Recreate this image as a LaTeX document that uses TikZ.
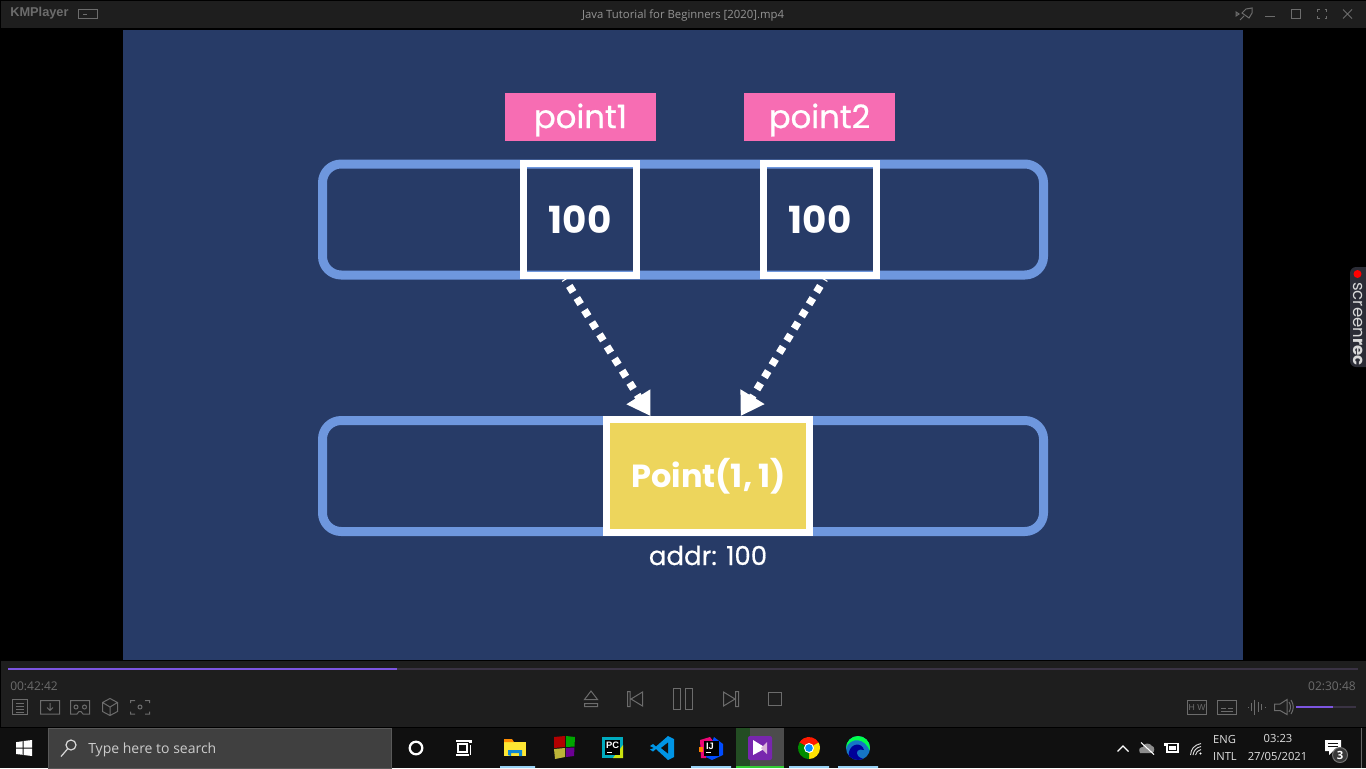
\documentclass[tikz,border=0pt]{standalone}
\usepackage{fontspec}
\usetikzlibrary{arrows.meta}
\setmainfont{Open Sans}
\newfontfamily\pop{Poppins}
\newfontfamily\popmed[FakeBold=0.6]{Poppins}
\newfontfamily\ui{Open Sans}
\newfontfamily\hv{Liberation Sans}
\definecolor{chrome}{HTML}{1E1E1E}
\definecolor{taskbar}{HTML}{101010}
\definecolor{video}{HTML}{273B67}
\definecolor{slotblue}{HTML}{6E97DE}
\definecolor{pinklab}{HTML}{F76DB3}
\definecolor{yellowobj}{HTML}{EDD55C}
\definecolor{icong}{HTML}{6C6C6C}
\definecolor{purp}{HTML}{7C55E0}
\definecolor{darkline}{HTML}{3A3344}
\definecolor{under}{HTML}{9AD2F6}
\definecolor{pill}{HTML}{2B2C36}
\newcommand{\lowered}[1]{\smash{\raisebox{-2.25pt}{#1}}\vphantom{#1}}
\tikzset{
  memrow/.style={draw=slotblue,line width=6.75pt,rounded corners=14pt},
  slotbox/.style={draw=white,line width=5.25pt,minimum width=84.75pt,minimum height=84pt,inner sep=0pt,text=white,font=\pop\bfseries\fontsize{28}{28}\selectfont},
  objbox/.style={draw=white,fill=yellowobj,line width=5.25pt,minimum width=152.25pt,minimum height=84.75pt,inner sep=0pt,text=white,font=\pop\bfseries\fontsize{24}{25}\selectfont},
  varlabel/.style={fill=pinklab,minimum width=113.25pt,minimum height=36pt,inner sep=0pt,text=white,font=\popmed\fontsize{24.2}{25}\selectfont},
  addrlabel/.style={text=white,inner sep=0pt,font=\popmed\fontsize{19.5}{20}\selectfont},
  ptr/.style={draw=white,line width=5.6pt,dash pattern=on 5.4pt off 5.3pt,dash phase=4.6pt,-{Triangle[length=17pt,width=20pt]}},
  ico/.style={draw=icong,line width=0.75pt},
  greytext/.style={text=icong,inner sep=0pt,font=\ui\fontsize{9}{9}\selectfont},
  traytext/.style={text=white!88!black,inner sep=0pt,font=\ui\fontsize{8.4}{10}\selectfont},
}
\begin{document}
\begin{tikzpicture}[x=0.75pt,y=-0.75pt]
\useasboundingbox (0,0) rectangle (1366,768);
\fill[black] (0,0) rectangle (1366,768);
% chrome
\fill[chrome] (1,1) rectangle (1366,28);
\fill[video] (123,30) rectangle (1243,660);
\fill[chrome] (1,661) rectangle (1366,727);
\fill[taskbar] (0,728) rectangle (1366,768);
% title bar
\node[inner sep=0pt,anchor=west,text=icong,font=\hv\bfseries\fontsize{9.6}{10}\selectfont] (kmp) at (10,13.5) {KMPlayer};
\draw[ico] (78.5,9.5) rectangle (97.5,18.5) (83,14) -- (87,14);
\node[inner sep=0pt,text=white!58!black,font=\ui\fontsize{8.5}{9}\selectfont] (title) at (683,15.5) {Java Tutorial for Beginners [2020].mp4};
\draw[ico] (1236,12) -- (1239,14) -- (1236,16) -- cycle;
\draw[ico] (1240,20) -- (1244,16) (1246,9) -- (1252,8) -- (1252,13) -- (1249,18) -- (1242,13) -- cycle;
\draw[icong,line width=1.1pt] (1265,16.5) -- (1275,16.5);
\draw[ico] (1291.5,9.5) rectangle (1300.5,18.5);
\draw[ico] (1317.5,12) -- (1317.5,9.5) -- (1320,9.5) (1324.500,9.5) -- (1326.5,9.5) -- (1326.5,12) (1326.5,16) -- (1326.5,18.5) -- (1324.500,18.5) (1320,18.5) -- (1317.5,18.5) -- (1317.5,16);
\draw[ico] (1343,9.5) -- (1352,18.5) (1352,9.5) -- (1343,18.5);
% memory rows
\draw[memrow] (322.5,164) rectangle (1043.5,275);
\draw[memrow] (322.5,420.5) rectangle (1043.5,531.5);
\node[slotbox] (box1) at (580,219.5) {100};
\node[slotbox] (box2) at (820,219.5) {100};
\node[varlabel] (label1) at (580.5,117) {\lowered{point1}};
\node[varlabel] (label2) at (819.5,117) {\lowered{point2}};
\node[objbox] (obj) at (708,476) {\hspace*{1.2pt}Point(1, 1)};
\node[addrlabel] (addr) at (708,555.5) {addr: 100};
\draw[ptr] ([xshift=-11.25pt]box1.south) -- ([xshift=-43.2pt]obj.north);
\draw[ptr] ([xshift=3.4pt]box2.south) -- ([xshift=24.5pt]obj.north);
% screenrec tab
\fill[pill,rounded corners=4.5pt] (1350,267) rectangle (1375,367);
\fill[red] (1357.5,274) circle (4);
\node[rotate=-90,anchor=west,inner sep=0pt,text=white!85!black,font=\pop\fontsize{12.4}{13}\selectfont] (srec) at (1358,282) {screen{\bfseries rec}};
% progress
\fill[darkline] (8,668) rectangle (1358,670);
\fill[purp] (8,668) rectangle (397,670);
\node[greytext,anchor=west] (tcur) at (10,686) {00:42:42};
\node[greytext,anchor=east] (ttot) at (1356,686) {02:30:48};
% lower-left icons
\draw[ico] (12.5,699.5) rectangle (27.5,714.5) (16,703) -- (24,703) (16,706) -- (24,706) (16,709) -- (24,709) (16,712) -- (24,712);
\draw[ico] (40.5,700.5) rectangle (59.5,714) (50,703) -- (50,710) (47,707.5) -- (50,710.5) -- (53,707.5);
\draw[ico] (70.5,700.5) -- (89.5,700.5) -- (89.5,714) -- (83,714) -- (81,711.5) -- (79,711.5) -- (77,714) -- (70.5,714) -- cycle (76,707) circle (2) (84.500,707) circle (2);
\draw[ico] (110,698.5) -- (117.5,702.500) -- (117.5,711.500) -- (110,715.5) -- (102.5,711.500) -- (102.5,702.500) -- cycle (102.5,702.500) -- (110,707) -- (117.5,702.500) (110,707) -- (110,715.5);
\draw[ico] (130.5,703) -- (130.5,700.5) -- (135,700.5) (145,700.5) -- (149.5,700.5) -- (149.5,703) (149.5,711.500) -- (149.5,714) -- (145,714) (135,714) -- (130.5,714) -- (130.5,711.500) (140,707) circle (2);
% transport
\draw[ico] (584.5,699.500) -- (591,691) -- (597.500,699.500) -- cycle (584.5,703.5) rectangle (597.500,706.5);
\draw[ico] (627.500,691.5) rectangle (630,706.5) (642.500,692) -- (631,699) -- (642.500,706) -- cycle;
\draw[ico] (673.500,688.5) rectangle (680.5,709.5) (685.5,688.5) rectangle (692.500,709.5);
\draw[ico] (723.500,692) -- (735,699) -- (723.500,706) -- cycle (735.5,691.5) rectangle (738.5,706.5);
\draw[ico] (768.5,692.5) rectangle (781.5,705.5);
% lower-right icons
\draw[ico] (1187.5,700.5) rectangle (1206.5,714);
\node[inner sep=0pt,text=icong,font=\hv\fontsize{6.5}{6}\selectfont] (hw) at (1197,707.500) {H W};
\draw[ico] (1217.5,700.5) rectangle (1236.5,714) (1221,708) -- (1226,708) (1228,708) -- (1233,708) (1221,711) -- (1233,711);
\draw[ico] (1248,707) -- (1249,707) (1251,703) -- (1251,711) (1254.500,699.5) -- (1254.500,714.5) (1258,702) -- (1258,712) (1261.5,704) -- (1261.5,710) (1265,706.5) -- (1265,708);
\draw[ico] (1274.5,704) -- (1280,704) -- (1287,699.5) -- (1287,714.5) -- (1280,710.5) -- (1274.5,710.5) -- cycle (1289,702) .. controls (1291,705) and (1291,709) .. (1289,712) (1291,700) .. controls (1294,705) and (1294,709) .. (1291,714);
\fill[darkline] (1296,706) rectangle (1356,708);
\fill[purp] (1296,706) rectangle (1333,708);
% taskbar left
\fill[white] (16,742.2) -- (22.6,741.2) -- (22.6,747.600) -- (16,747.600) -- cycle (23.6,741) -- (32,740) -- (32,747.600) -- (23.6,747.600) -- cycle (16,748.500) -- (22.6,748.500) -- (22.6,754.800) -- (16,754) -- cycle (23.6,748.500) -- (32,748.500) -- (32,756) -- (23.6,755) -- cycle;
\draw[fill=white!25!black,draw=white!35!black,line width=0.75pt] (48.5,728.5) rectangle (391.5,768);
\draw[white!85!black,line width=0.9pt] (71,745) circle (5) (67.5,749) -- (61,756.5);
\node[inner sep=0pt,anchor=west,text=white!80!black,font=\ui\fontsize{10.5}{12}\selectfont] (search) at (88,749.5) {Type here to search};
\draw[white,line width=1.7pt] (416,748) circle (6.3);
\draw[white,line width=0.9pt] (456,741) -- (469,741) (458,744) rectangle (467,752) (456,755) -- (469,755) (470.5,745) -- (470.5,755);
\fill[white] (469,740) rectangle (472,743);
% task icons
\fill[under] (500,766) rectangle (535,768) (691,766) rectangle (731,768) (789,766) rectangle (829,768) (838,766) rectangle (878,768);
\fill[white!30!black] (750,728) rectangle (784,768);
\fill[green!40!black!75!white!55!black] (736,728) rectangle (750,768);
\fill[green!75!black!80!white] (736,766) rectangle (784,768);
% explorer
\fill[yellow!85!orange!80!white] (504,742) rectangle (526,756);
\fill[orange!90!yellow] (504,739) -- (512,739) -- (514,742) -- (504,742) -- cycle;
\fill[cyan!70!blue] (508,755) -- (508,750) -- (522,750) -- (522,756) -- (519,756) -- (519,753) -- (511,753) -- (511,756) -- cycle;
% tiles
\fill[red!70!black] (554,737) -- (565,736) -- (565,747) -- (554,748) -- cycle;
\fill[green!65!black] (566,736) -- (575,737) -- (574.5,746.5) -- (566,747) -- cycle;
\fill[yellow!70!black] (554,749) -- (565,748) -- (565,757) -- (555,759) -- cycle;
\fill[violet!85!blue] (566,748) -- (574.5,747.5) -- (574,756) -- (566,757) -- cycle;
% PC
\fill[cyan!70!green] (602,737) rectangle (623,758);
\fill[yellow!80!green] (613,758) -- (623,758) -- (623,745) -- cycle;
\fill[black] (605,740) rectangle (620,755);
\node[inner sep=0pt,text=white,font=\hv\bfseries\fontsize{7}{7}\selectfont] (pc) at (612.5,745) {PC};
\fill[white] (607,751.5) rectangle (612,752.5);
% VS code
\fill[blue!35!cyan!90!black] (668,736) -- (674,739) -- (674,757) -- (668,760) -- (656,749) -- (653,751.5) -- (650,749.5) -- (654,748) -- (650,746) -- (653,744) -- (656,746.500) -- cycle;
\fill[taskbar] (668,742.500) -- (661,748) -- (668,753.500) -- cycle;
% IJ
\fill[magenta!80!red] (700,740) -- (710,737) -- (714,742) -- (706,758) -- (701,758) -- cycle;
\fill[blue!70!cyan] (714,737) -- (723,744) -- (723,755) -- (712,760) -- (706,757) -- cycle;
\fill[orange] (699,747) rectangle (703,752);
\fill[black] (704,741) rectangle (719,756);
\node[inner sep=0pt,text=white,font=\hv\bfseries\fontsize{7}{7}\selectfont] (ij) at (710,746) {IJ};
\fill[white] (705.500,752) rectangle (711,753);
% KMPlayer app
\fill[violet!75!blue!85!white,rounded corners=1.5pt] (748,736) rectangle (772,760);
\fill[white] (753,740) -- (766,748) -- (753,755) -- cycle;
\fill[white!70!violet] (767,742) -- (767,754) -- (761,748) -- cycle;
% chrome browser
\fill[red!80!orange] (809,748) -- +(-30:11) arc[start angle=-30,end angle=-150,radius=11] -- cycle;
\fill[yellow!85!orange] (809,748) -- +(90:11) arc[start angle=90,end angle=-30,radius=11] -- cycle;
\fill[green!55!black] (809,748) -- +(-150:11) arc[start angle=-150,end angle=-270,radius=11] -- cycle;
\fill[white] (809,748) circle (5);
\fill[blue!45!cyan] (809,748) circle (3.8);
% edge browser
\begin{scope}
\clip (858,748) circle (12);
\fill[cyan!55!blue] (846,736) rectangle (870,760);
\fill[green!70!cyan] (846,748) .. controls (850,737) and (866,737) .. (870,752) -- (872,734) -- (846,734) -- cycle;
\fill[blue!60!black] (849,752) .. controls (851,743) and (862,742) .. (864,750) .. controls (858,748) and (855,752) .. (858,756) .. controls (860,758) and (864,760) .. (868,758) -- (860,764) -- (848,762) -- cycle;
\end{scope}
% tray
\draw[white,line width=0.9pt] (1117.5,751.5) -- (1123,746) -- (1128.5,751.5);
\fill[white!55!black] (1140,753) .. controls (1138,749) and (1140,747) .. (1143,747) .. controls (1144,742) and (1150,743) .. (1152,746) .. controls (1155,746) and (1155,753) .. (1152,753) -- cycle;
\draw[white,line width=0.8pt] (1141,742.500) -- (1154,754.500);
\draw[white,line width=0.9pt] (1167,743.500) rectangle (1178,752);
\fill[white] (1169,745.5) rectangle (1176,750);
\fill[white] (1178,746) rectangle (1179,750);
\draw[white,line width=0.9pt] (1164,745) -- (1168,745) (1165,742.500) -- (1165,745) (1167,742.500) -- (1167,745);
\fill[white] (1200.5,753.5) circle (1.2);
\draw[white!85!black,line width=0.7pt] (1190.5,755) .. controls (1191,749) and (1194,745) .. (1201,743.5) (1193,755) .. controls (1193.5,751) and (1196,747.5) .. (1201,746.500) (1195.5,755) .. controls (1196,752.500) and (1198,750) .. (1201,749.5);
\node[traytext] (eng) at (1224.5,739.500) {ENG};
\node[traytext] (intl) at (1225,756.5) {INTL};
\node[traytext] (clock) at (1278,738.500) {03:23};
\node[traytext] (date) at (1277.5,756.5) {27/05/2021};
\fill[white] (1325,740) rectangle (1341,751) (1329,751) -- (1333,751) -- (1329,755) -- cycle;
\draw[taskbar,line width=0.7pt] (1328,743) -- (1338,743) (1328,746) -- (1338,746);
\draw[fill=white!22!black,draw=white!45!black,line width=0.75pt] (1340,755) circle (7.5);
\node[inner sep=0pt,text=white,font=\ui\bfseries\fontsize{8.5}{9}\selectfont] (badge) at (1340,755) {3};
\draw[white!40!black,line width=0.75pt] (1361.5,728) -- (1361.5,768);
\end{tikzpicture}
\end{document}
